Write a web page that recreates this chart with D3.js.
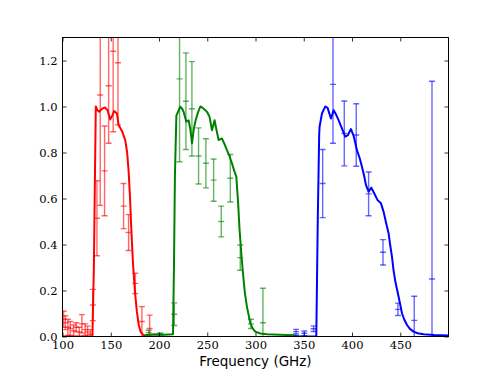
<!DOCTYPE html>
<html><head><meta charset="utf-8">
<script src="https://cdn.jsdelivr.net/npm/d3@7"></script>
<style>
body{margin:0;background:#fff;}
svg{display:block;}
.tick text{font-family:"DejaVu Serif",serif;font-size:11.5px;fill:#000;}
</style></head>
<body>
<script>
// ---- data ----
const redCurveFreq = [100,131,132.5,134.5,136,138,141,144,146.5,149.5,151.5,153.6,156.4,158.1,162,165,167,168.5,170,171.5,173,175,177,179,181,184,190,200];
const redCurveVal  = [0,0,0.3,1.0,0.985,0.977,0.99,0.996,0.985,0.944,0.96,0.98,0.97,0.92,0.89,0.854,0.80,0.72,0.6,0.45,0.32,0.2,0.11,0.05,0.02,0.005,0,0];
const greenCurveFreq = [185,195,205,214.5,215.5,216.5,218,220,222,224,225.5,228.3,230.7,232.5,234.2,236,237.6,240,242.8,245,248,250,252.4,254.9,257.6,259,261.8,265.2,268,270.4,273,275.6,278,280.1,282,283.5,285.5,287,289,291.1,294.6,297,299.8,305,311.9,325,339.5,345];
const greenCurveVal  = [0.005,0.01,0.008,0.01,0.3,0.7,0.96,0.98,0.999,0.99,0.977,0.934,0.94,0.9,0.84,0.9,0.934,0.97,1.0,0.995,0.984,0.975,0.955,0.897,0.94,0.91,0.854,0.861,0.835,0.81,0.785,0.753,0.72,0.695,0.58,0.463,0.35,0.275,0.19,0.13,0.058,0.035,0.021,0.013,0.01,0.008,0.005,0.0];
const blueCurveFreq = [340,363,364.5,366,366.4,368.9,372.3,374.7,376.5,378.2,381,383.5,386.1,389.5,393,395.8,398.9,401.7,403.5,405.1,408,410.3,412.5,414.4,417.2,420,423.1,426.5,430,432.7,435,437.9,439.5,441.4,443,444.9,448.3,451.8,454,457,460,463.8,468,474.2,485,500];
const blueCurveVal  = [0,0,0.5,0.88,0.912,0.97,1.0,0.994,0.97,0.948,0.984,0.965,0.941,0.905,0.869,0.876,0.902,0.872,0.84,0.81,0.775,0.738,0.7,0.659,0.63,0.647,0.622,0.593,0.579,0.543,0.5,0.449,0.4,0.347,0.29,0.239,0.173,0.101,0.075,0.05,0.033,0.021,0.014,0.01,0.006,0.004];

const redPtFreq = [101.1,102.9,105.6,108,111.5,114.2,117.4,120.1,123.6,126,128.8,131.5,135.7,139.1,143.6,147.8,152.5,157.5,163.3,168.5,175.4,182.3,190.3];
const redPtVal  = [0.075,0.06,0.04,0.035,0.025,0.04,0.02,0.055,0.03,0.02,0.01,0.137,0.514,1.05,0.72,1.09,1.24,1.19,0.567,0.452,0.231,0.065,0.035];
const redPtErr  = [0.035,0.03,0.035,0.03,0.025,0.02,0.02,0.04,0.025,0.025,0.02,0.068,0.163,0.48,0.195,0.25,0.35,0.27,0.098,0.078,0.044,0.065,0.058];
const greenPtFreq = [189.3,201.3,215.8,221.3,227.9,234.1,241,248.6,256.6,264.5,273.9,284.2,295.3,307.7];
const greenPtVal  = [0.017,0.01,0.097,1.12,1.023,0.99,0.785,0.753,0.68,0.5,0.688,0.343,0.055,0.06];
const greenPtErr  = [0.01,0.005,0.049,0.36,0.21,0.205,0.122,0.107,0.092,0.067,0.103,0.055,0.02,0.15];
const bluePtFreq = [342,350.6,360.2,369.6,380.3,392,404.4,417.2,432.1,447.6,464.5,482.9];
const bluePtVal  = [0.021,0.014,0.034,0.665,1.096,0.883,0.876,0.62,0.366,0.118,0.07,0.25];
const bluePtErr  = [0.01,0.01,0.012,0.148,0.256,0.141,0.136,0.095,0.055,0.027,0.105,0.86];

const xTicks = [100,150,200,250,300,350,400,450];
const yTicks = [0.0,0.2,0.4,0.6,0.8,1.0,1.2];
const xLabel = "Frequency (GHz)";

// ---- layout ----
const W = 498, H = 374;
const L = 62.5, R = 448.5, T = 37.5, B = 336.5;
const svg = d3.select("body").append("svg").attr("width", W).attr("height", H);
const x = d3.scaleLinear().domain([100, 500]).range([L, R]);
const y = d3.scaleLinear().domain([0, 1.3]).range([B, T]);

svg.append("defs").append("clipPath").attr("id","clip")
  .append("rect").attr("x",L).attr("y",T).attr("width",R-L).attr("height",B-T);
const plot = svg.append("g").attr("clip-path","url(#clip)");

const series = [
  {c:"#ff0000", cf:redCurveFreq, cv:redCurveVal, pf:redPtFreq, pv:redPtVal, pe:redPtErr},
  {c:"#008000", cf:greenCurveFreq, cv:greenCurveVal, pf:greenPtFreq, pv:greenPtVal, pe:greenPtErr},
  {c:"#0000ff", cf:blueCurveFreq, cv:blueCurveVal, pf:bluePtFreq, pv:bluePtVal, pe:bluePtErr}
];
const line = d3.line().x(d=>x(d[0])).y(d=>y(d[1]));

series.forEach(s=>{
  plot.append("path").datum(d3.zip(s.cf, s.cv))
    .attr("d", line).attr("fill","none").attr("stroke", s.c)
    .attr("stroke-width", 2).attr("stroke-linejoin","round");
});
series.forEach(s=>{
  const g = plot.append("g").attr("stroke", s.c).attr("stroke-opacity", 0.6).attr("stroke-width", 1.4).attr("fill","none");
  s.pf.forEach((f,i)=>{
    const cx = x(f), v = s.pv[i], e = s.pe[i];
    const y1 = y(v+e), y0 = y(v-e), cy = y(v);
    g.append("line").attr("x1",cx).attr("x2",cx).attr("y1",y1).attr("y2",y0);
    g.append("line").attr("x1",cx-3).attr("x2",cx+3).attr("y1",y1).attr("y2",y1);
    g.append("line").attr("x1",cx-3).attr("x2",cx+3).attr("y1",y0).attr("y2",y0);
    g.append("line").attr("x1",cx-3).attr("x2",cx+3).attr("y1",cy).attr("y2",cy);
  });
});

// axes
const ax = svg.append("g");
ax.append("g").attr("transform",`translate(0,${B})`)
  .call(d3.axisBottom(x).tickValues(xTicks).tickFormat(d3.format("d")).tickSizeInner(-4).tickSizeOuter(0).tickPadding(4));
ax.append("g").attr("transform",`translate(0,${T})`)
  .call(d3.axisTop(x).tickValues(xTicks).tickFormat("").tickSizeInner(-4).tickSizeOuter(0));
ax.append("g").attr("transform",`translate(${L},0)`)
  .call(d3.axisLeft(y).tickValues(yTicks).tickFormat(d3.format(".1f")).tickSizeInner(-4).tickSizeOuter(0).tickPadding(5));
ax.append("g").attr("transform",`translate(${R},0)`)
  .call(d3.axisRight(y).tickValues(yTicks).tickFormat("").tickSizeInner(-4).tickSizeOuter(0));
ax.selectAll(".domain").remove();
ax.selectAll(".tick line").attr("stroke","#000").attr("stroke-width",0.8);
svg.append("rect").attr("x",L).attr("y",T).attr("width",R-L).attr("height",B-T)
  .attr("fill","none").attr("stroke","#000").attr("stroke-width",1);

svg.append("text").attr("x",(L+R)/2).attr("y",365.5).attr("text-anchor","middle")
  .style("font-family","'DejaVu Sans',sans-serif").style("font-size","13.5px").text(xLabel);
</script>
</body></html>
